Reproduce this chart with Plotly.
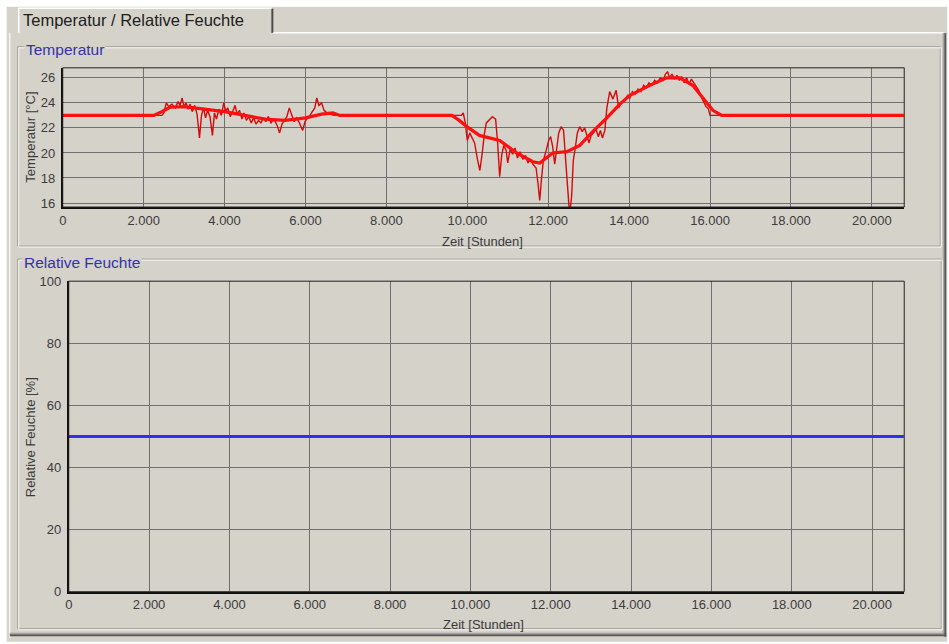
import plotly.graph_objects as go

# ---------------- data ----------------
temp_raw_x = [0, 2450, 2500, 2560, 2620, 2700, 2780, 2850, 2900, 2950, 3000, 3050, 3100, 3150, 3200,
              3260, 3320, 3380, 3430, 3480, 3530, 3580, 3640, 3700, 3750, 3800, 3860, 3920, 3980, 4030,
              4080, 4140, 4200, 4260, 4310, 4370, 4430, 4480, 4540, 4600, 4660, 4720, 4780, 4840, 4900,
              4960, 5020, 5080, 5150, 5220, 5300, 5360, 5420, 5480, 5540, 5600, 5660, 5720, 5780, 5850,
              5930, 5990, 6050, 6110, 6170, 6230, 6280, 6330, 6400, 6460, 6530, 6600, 6700,
              9850, 9900, 9950, 10000, 10060, 10120, 10180, 10250, 10310, 10370, 10420, 10470, 10540,
              10620, 10700, 10750, 10800, 10850, 10900, 10960, 11000, 11060, 11120, 11180, 11240, 11300,
              11370, 11440, 11500, 11560, 11620, 11700, 11750, 11790, 11830, 11880, 11950, 12010, 12060,
              12110, 12160, 12210, 12260, 12320, 12380, 12430, 12480, 12530, 12580, 12620, 12660, 12720,
              12780, 12840, 12900, 12960, 13010, 13060, 13120, 13180, 13240, 13290, 13340, 13400, 13450,
              13520, 13600, 13680, 13740, 13820, 13900, 13960, 14020, 14080, 14150, 14220, 14290, 14360,
              14420, 14490, 14560, 14630, 14700, 14770, 14840, 14900, 14950, 15000, 15060, 15120, 15180,
              15240, 15300, 15360, 15420, 15480, 15540, 15600, 15660, 15720, 15780, 15840, 15900, 15960,
              16000, 20790]
temp_raw_y = [23.0, 23.0, 23.2, 24.0, 23.7, 23.9, 23.6, 24.1, 23.8, 24.4, 23.7, 24.0, 23.5, 23.9, 23.3,
              23.8, 23.1, 21.2, 23.0, 23.6, 22.8, 23.4, 22.9, 21.4, 23.2, 22.7, 23.5, 23.0, 24.0, 23.3,
              23.6, 22.9, 23.3, 23.8, 23.1, 23.4, 22.7, 23.2, 22.6, 22.9, 22.4, 22.8, 22.3, 22.6, 22.4,
              22.8, 22.5, 22.9, 22.4, 22.7, 22.2, 21.6, 22.3, 22.6, 22.9, 23.6, 23.1, 22.5, 22.8, 22.4,
              21.8, 22.5, 22.8, 23.0, 23.3, 23.6, 24.4, 23.8, 24.0, 23.4, 23.2, 23.1, 23.0,
              23.0, 23.2, 22.4, 21.0, 21.6, 21.2, 20.8, 19.5, 18.6, 20.0, 21.5, 22.4, 22.6,
              22.9, 22.7, 20.8, 18.1, 19.8, 20.6, 20.2, 19.2, 20.3, 19.9, 20.4, 19.6, 20.1,
              19.5, 19.8, 19.2, 19.5, 19.1, 18.8, 17.5, 16.2, 17.8, 19.4, 20.2, 21.0, 21.3,
              20.5, 19.1, 20.4, 21.6, 22.1, 21.8, 19.5, 16.8, 15.0, 16.6, 19.4, 20.2, 21.6,
              22.1, 21.7, 22.0, 21.4, 20.8, 21.4, 21.6, 21.9, 21.3, 21.8, 21.2, 21.8, 23.6,
              24.9, 24.3, 25.0, 23.6, 24.1, 24.2, 24.6, 24.4, 24.9, 24.7, 25.1, 24.9, 25.4,
              25.2, 25.6, 25.4, 25.8, 25.6, 26.0, 25.8, 26.3, 26.5, 26.0, 26.3, 25.9, 26.2,
              25.8, 26.1, 25.6, 26.0, 25.5, 25.9, 25.6, 25.3, 25.0, 24.5, 24.1, 23.7, 23.5,
              23.0, 23.0]

temp_trend_x = [0, 2250, 2450, 2650, 3000, 3500, 4000, 4500, 5000, 5500, 6000, 6400, 6680, 6850,
                9620, 9800, 9990, 10300, 10800, 11220, 11620, 11790, 12110, 12460, 12780, 13100,
                13450, 13770, 14020, 14510, 14930, 15250, 15570, 15820, 16070, 16290, 20790]
temp_trend_y = [23.0, 23.0, 23.3, 23.65, 23.7, 23.5, 23.3, 23.0, 22.7, 22.6, 22.8, 23.1, 23.2, 23.0,
                23.0, 22.6, 22.1, 21.4, 21.0, 20.0, 19.3, 19.2, 20.0, 20.1, 20.6, 21.7,
                22.8, 23.9, 24.6, 25.4, 26.0, 26.0, 25.4, 24.4, 23.4, 23.0, 23.0]

hum_x = [0, 20790]
hum_y = [50, 50]

x_tickvals = [0, 2000, 4000, 6000, 8000, 10000, 12000, 14000, 16000, 18000, 20000]
x_ticktext = ["0", "2.000", "4.000", "6.000", "8.000", "10.000", "12.000", "14.000",
              "16.000", "18.000", "20.000"]
t_tickvals = [16, 18, 20, 22, 24, 26]
h_tickvals = [0, 20, 40, 60, 80, 100]

# ---------------- layout helpers ----------------
W, H = 949, 644
# the page is displayed slightly shrunk/offset; pre-compensate screen positions
AX, BX, AY, BY = 0.9952, 4.3, 0.975, 7.3
def PX(x):
    return ((x - BX) / AX) / W
def PY(y):
    return 1 - ((y - BY) / AY) / H

BG = "#d5d2ca"
PLOT_BG = "#d9d6cf"
GRID = "#6f6f6f"
TXT = "#3c3c3c"
BLUE_T = "#3434a8"
FONT = "Liberation Sans"

fig = go.Figure()
fig.add_trace(go.Scatter(x=temp_raw_x, y=temp_raw_y, mode="lines",
                         line=dict(color="#d40a0a", width=1.4), xaxis="x", yaxis="y",
                         showlegend=False, hoverinfo="skip"))
fig.add_trace(go.Scatter(x=temp_trend_x, y=temp_trend_y, mode="lines",
                         line=dict(color="#ff0f0f", width=3.2), xaxis="x", yaxis="y",
                         showlegend=False))
fig.add_trace(go.Scatter(x=hum_x, y=hum_y, mode="lines",
                         line=dict(color="#2f2ff2", width=3), xaxis="x2", yaxis="y2",
                         showlegend=False))

axis_common = dict(showgrid=True, gridcolor=GRID, gridwidth=1, zeroline=False,
                   showline=True, linecolor="#101010", linewidth=2, ticks="",
                   tickfont=dict(family=FONT, size=13, color=TXT), fixedrange=True)

fig.update_layout(
    width=W, height=H,
    autosize=False,
    margin=dict(l=0, r=0, t=0, b=0),
    paper_bgcolor="white",
    plot_bgcolor=PLOT_BG,
    showlegend=False,
    xaxis=dict(domain=[PX(63), PX(904)], range=[0, 20800], anchor="y",
               tickmode="array", tickvals=x_tickvals, ticktext=x_ticktext,
               ticklabelstandoff=0, **axis_common),
    yaxis=dict(domain=[PY(207), PY(68)], range=[15.68, 26.8], anchor="x",
               tickmode="array", tickvals=t_tickvals, ticklabelstandoff=3, **axis_common),
    xaxis2=dict(domain=[PX(69), PX(904)], range=[0, 20800], anchor="y2",
                tickmode="array", tickvals=x_tickvals, ticktext=x_ticktext,
                ticklabelstandoff=0, **axis_common),
    yaxis2=dict(domain=[PY(591), PY(281)], range=[0, 100], anchor="x2",
                tickmode="array", tickvals=h_tickvals, ticklabelstandoff=3, **axis_common),
)

shapes = []
def rect(x0, y0, x1, y1, fill=None, line=None, lw=1, layer="below"):
    shapes.append(dict(type="rect", xref="paper", yref="paper",
                       x0=PX(x0), x1=PX(x1), y0=PY(y1), y1=PY(y0),
                       fillcolor=fill if fill else "rgba(0,0,0,0)",
                       line=dict(color=line if line else "rgba(0,0,0,0)", width=lw if line else 0),
                       layer=layer))
def hline(x0, x1, y, color, lw=1, layer="below"):
    shapes.append(dict(type="line", xref="paper", yref="paper",
                       x0=PX(x0), x1=PX(x1), y0=PY(y), y1=PY(y),
                       line=dict(color=color, width=lw), layer=layer))
def vline(x, y0, y1, color, lw=1, layer="below"):
    shapes.append(dict(type="line", xref="paper", yref="paper",
                       x0=PX(x), x1=PX(x), y0=PY(y0), y1=PY(y1),
                       line=dict(color=color, width=lw), layer=layer))

# window background
rect(7, 7, 947, 641, fill=BG)
# tab page borders
hline(273, 946, 33, "#ffffff", 1.5)
vline(10, 33, 637, "#f4f4f4", 1.5)
hline(10, 946, 634.5, "#5a5a5a", 2)
hline(10, 946, 632.5, "#9a9690", 1)
vline(945, 33, 636, "#5a5a5a", 2)
vline(943, 33, 633, "#9a9690", 1)
# tab header
rect(19, 8, 273, 34, fill=BG)
hline(19, 272, 8.5, "#ffffff", 1.5)
vline(19, 8, 33, "#ffffff", 1.5)
vline(272.5, 9, 33, "#4a4a4a", 2)

# group boxes (etched)
def groupbox(x0, y0, x1, y1):
    rect(x0, y0, x1, y1, line="#9d9992", lw=1)
    rect(x0 + 1, y0 + 1, x1 + 1, y1 + 1, line="#f6f6f4", lw=1)
groupbox(18, 47, 940, 246)
groupbox(18, 259, 941, 628)

# plot area frames (thin top / right border)
for xr, yr in (("x", "y"), ("x2", "y2")):
    shapes.append(dict(type="rect", xref=xr + " domain", yref=yr + " domain",
                       x0=0, x1=1, y0=0, y1=1, line=dict(color="#202020", width=1),
                       layer="above"))

fig.update_layout(shapes=shapes)

ann = []
def text(s, x, y, size, color=TXT, xanchor="center", angle=0, bg=None):
    d = dict(text=s, x=PX(x), y=PY(y), xref="paper", yref="paper", showarrow=False,
             xanchor=xanchor, yanchor="middle", textangle=angle,
             font=dict(family=FONT, size=size, color=color))
    if bg:
        d["bgcolor"] = bg
        d["borderpad"] = 1
    ann.append(d)

text("Temperatur / Relative Feuchte", 21, 20, 16.5, color="#202020", xanchor="left")
text("Temperatur", 24, 50, 15.5, color=BLUE_T, xanchor="left", bg=BG)
text("Relative Feuchte", 22, 262, 15.5, color=BLUE_T, xanchor="left", bg=BG)
text("Zeit [Stunden]", 483, 241, 13)
text("Zeit [Stunden]", 484, 624, 13)
text("Temperatur [°C]", 31, 137, 13, angle=-90)
text("Relative Feuchte [%]", 31, 437, 13, angle=-90)
fig.update_layout(annotations=ann)

post = ("document.documentElement.style.margin='0';document.documentElement.style.overflow='hidden';"
        "document.body.style.margin='0';document.body.style.padding='0';"
        "document.body.style.overflow='hidden';")

fig.write_html("out.html", config={"displayModeBar": False, "responsive": False},
               post_script=post)
